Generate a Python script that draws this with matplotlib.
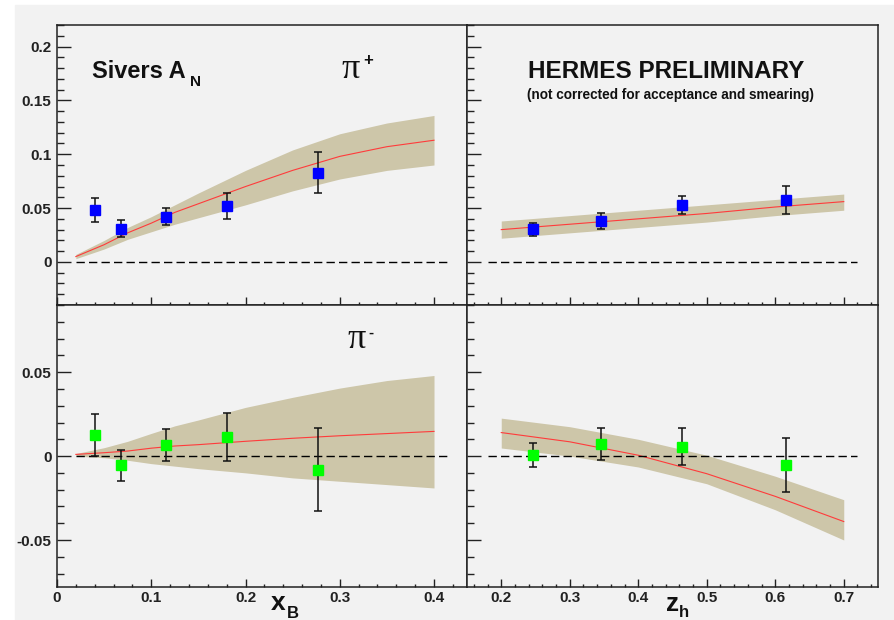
"""HERMES preliminary Sivers asymmetries vs x_B and z_h, with model bands."""

import numpy as np
import matplotlib
matplotlib.use("Agg")
import matplotlib.pyplot as plt
from matplotlib.patches import Rectangle
from matplotlib.ticker import MultipleLocator, FuncFormatter

W, H = 895, 620

# --- data points -----------------------------------------------------------
xb_pts = [0.040, 0.068, 0.116, 0.180, 0.277]
pip_xb_val = [0.048, 0.031, 0.042, 0.052, 0.083]
pip_xb_err = [0.011, 0.008, 0.008, 0.012, 0.019]
pim_xb_val = [0.0125, -0.0056, 0.0065, 0.0113, -0.008]
pim_xb_err = [0.0127, 0.009, 0.0095, 0.0143, 0.0247]

zh_pts = [0.247, 0.346, 0.464, 0.615]
pip_zh_val = [0.0305, 0.038, 0.0528, 0.0574]
pip_zh_err = [0.006, 0.0077, 0.0085, 0.013]
pim_zh_val = [0.0006, 0.0071, 0.0057, -0.0052]
pim_zh_err = [0.0074, 0.0094, 0.011, 0.016]

# --- model curves and error bands -----------------------------------------
xb_grid = [0.02, 0.05, 0.075, 0.10, 0.125, 0.15, 0.20, 0.25, 0.30, 0.35, 0.40]
pip_xb_mid = [0.005, 0.016, 0.027, 0.036, 0.046, 0.054, 0.070, 0.085, 0.098, 0.107, 0.113]
pip_xb_hi = [0.007, 0.020, 0.032, 0.042, 0.053, 0.064, 0.085, 0.104, 0.119, 0.129, 0.136]
pip_xb_lo = [0.003, 0.012, 0.021, 0.028, 0.035, 0.041, 0.053, 0.066, 0.077, 0.085, 0.090]
pim_xb_mid = [0.001, 0.002, 0.003, 0.0047, 0.006, 0.0068, 0.0088, 0.0106, 0.0121, 0.0134, 0.0147]
pim_xb_hi = [0.0015, 0.005, 0.0088, 0.0135, 0.018, 0.0215, 0.029, 0.035, 0.0405, 0.045, 0.048]
pim_xb_lo = [0.0, -0.001, -0.0025, -0.0045, -0.006, -0.0075, -0.010, -0.013, -0.015, -0.017, -0.019]

zh_grid = [0.2, 0.3, 0.4, 0.5, 0.6, 0.7]
pip_zh_mid = [0.030, 0.035, 0.040, 0.045, 0.051, 0.056]
pip_zh_hi = [0.038, 0.043, 0.048, 0.053, 0.058, 0.063]
pip_zh_lo = [0.022, 0.027, 0.032, 0.037, 0.043, 0.048]
pim_zh_mid = [0.014, 0.0085, 0.0005, -0.0105, -0.024, -0.039]
pim_zh_hi = [0.0226, 0.0175, 0.010, 0.0005, -0.012, -0.026]
pim_zh_lo = [0.0048, 0.0, -0.0065, -0.0165, -0.032, -0.050]

xb_zero = [0.02, 0.417]
zh_zero = [0.18, 0.72]

BG = "#f2f2f2"
BAND = "#cdc6a9"
RED = "#ff3b3b"
BLUE = "#0000ff"
GREEN = "#00ff00"
INK = "#111111"

plt.rcParams["font.family"] = ["Liberation Sans", "DejaVu Sans"]
plt.rcParams["font.weight"] = "bold"
plt.rcParams["axes.unicode_minus"] = False


def px(x, y):
    return x / W, 1 - y / H


def draw_panel(ax, grid, mid, lo, hi, xpts, val, err, color, zero):
    ax.fill_between(grid, lo, hi, color=BAND, lw=0, zorder=1)
    ax.plot(grid, mid, color=RED, lw=0.8, zorder=2)
    ax.plot(zero, [0, 0], color="black", lw=1.0, ls=(0, (6, 3)), zorder=2)
    ax.errorbar(xpts, val, yerr=err, fmt="s", color=color, ms=7.2, mec=color,
                ecolor=INK, elinewidth=1.1, capsize=2.6, capthick=1.1, zorder=3)


def style_axes(ax, xlim, ylim, xlabels, ylabels):
    ax.set_facecolor(BG)
    ax.set_xlim(*xlim)
    ax.set_ylim(*ylim)
    ax.xaxis.set_major_locator(MultipleLocator(0.1))
    ax.xaxis.set_minor_locator(MultipleLocator(0.02))
    ax.yaxis.set_major_locator(MultipleLocator(0.05))
    ax.yaxis.set_minor_locator(MultipleLocator(0.01))
    fmt = FuncFormatter(lambda v, p: f"{v:g}" if abs(v) > 1e-9 else "0")
    ax.xaxis.set_major_formatter(fmt)
    ax.yaxis.set_major_formatter(fmt)
    ax.tick_params(which="both", direction="in", top=False, right=False,
                   color="#222222", width=1.0, labelsize=11, labelcolor="#222222")
    ax.tick_params(axis="y", which="major", length=10, pad=4)
    ax.tick_params(axis="y", which="minor", length=5)
    ax.tick_params(axis="x", which="major", length=5.5, pad=3)
    ax.tick_params(axis="x", which="minor", length=2.5)
    if not xlabels:
        ax.tick_params(axis="x", labelbottom=False)
    if not ylabels:
        ax.tick_params(axis="y", labelleft=False)
    for s in ax.spines.values():
        s.set_linewidth(1.1)
        s.set_color("#222222")


fig = plt.figure(figsize=(W / 100, H / 100), dpi=100)
fig.patch.set_facecolor("white")
fig.add_artist(Rectangle((15 / W, 0), 1 - 15 / W, 1 - 5 / H,
                         transform=fig.transFigure, color=BG, zorder=-10))

lx, rx, wl, wr = 57 / W, 467 / W, 410 / W, 411 / W
tb, th = 1 - 305 / H, 280 / H
bb, bh = 1 - 587 / H, 282 / H

ax_tl = fig.add_axes([lx, tb, wl, th])
ax_tr = fig.add_axes([rx, tb, wr, th])
ax_bl = fig.add_axes([lx, bb, wl, bh])
ax_br = fig.add_axes([rx, bb, wr, bh])

top_ylim = (-0.04, 0.22)
bot_ylim = (-0.078, 0.09)
xb_lim = (0.0, 0.435)
zh_lim = (0.15, 0.75)

draw_panel(ax_tl, xb_grid, pip_xb_mid, pip_xb_lo, pip_xb_hi, xb_pts, pip_xb_val, pip_xb_err, BLUE, xb_zero)
draw_panel(ax_tr, zh_grid, pip_zh_mid, pip_zh_lo, pip_zh_hi, zh_pts, pip_zh_val, pip_zh_err, BLUE, zh_zero)
draw_panel(ax_bl, xb_grid, pim_xb_mid, pim_xb_lo, pim_xb_hi, xb_pts, pim_xb_val, pim_xb_err, GREEN, xb_zero)
draw_panel(ax_br, zh_grid, pim_zh_mid, pim_zh_lo, pim_zh_hi, zh_pts, pim_zh_val, pim_zh_err, GREEN, zh_zero)

style_axes(ax_tl, xb_lim, top_ylim, False, True)
style_axes(ax_tr, zh_lim, top_ylim, False, False)
style_axes(ax_bl, xb_lim, bot_ylim, True, True)
style_axes(ax_br, zh_lim, bot_ylim, True, False)

# panel annotations
fig.text(*px(92, 78), "Sivers A", fontsize=17, fontweight="bold", va="baseline", color=INK)
fig.text(*px(190, 86), "N", fontsize=11, fontweight="bold", va="baseline", color=INK)
fig.text(*px(341, 78), "\u03c0", fontsize=26, family="Liberation Serif", fontweight="normal",
         va="baseline", color=INK)
fig.text(*px(368, 60), "+", fontsize=12, fontweight="bold", ha="center", va="center", color=INK)
fig.text(*px(347, 348), "\u03c0", fontsize=26, family="Liberation Serif", fontweight="normal",
         va="baseline", color=INK)
fig.text(*px(371, 333), "-", fontsize=11, fontweight="bold", ha="center", va="center", color=INK)
fig.text(*px(528, 78), "HERMES PRELIMINARY", fontsize=17.5, fontweight="bold", va="baseline",
         color=INK)
fig.text(*px(527, 99), "(not corrected for acceptance and smearing)", fontsize=9.8,
         fontweight="bold", va="baseline", color=INK)

# axis titles
fig.text(*px(271, 610), "x", fontsize=19, fontweight="bold", va="baseline", color=INK)
fig.text(*px(287, 618), "B", fontsize=12, fontweight="bold", va="baseline", color=INK)
fig.text(*px(666, 611), "z", fontsize=19, fontweight="bold", va="baseline", color=INK)
fig.text(*px(679, 617), "h", fontsize=12, fontweight="bold", va="baseline", color=INK)

fig.savefig("out.png", dpi=100)
plt.close(fig)
